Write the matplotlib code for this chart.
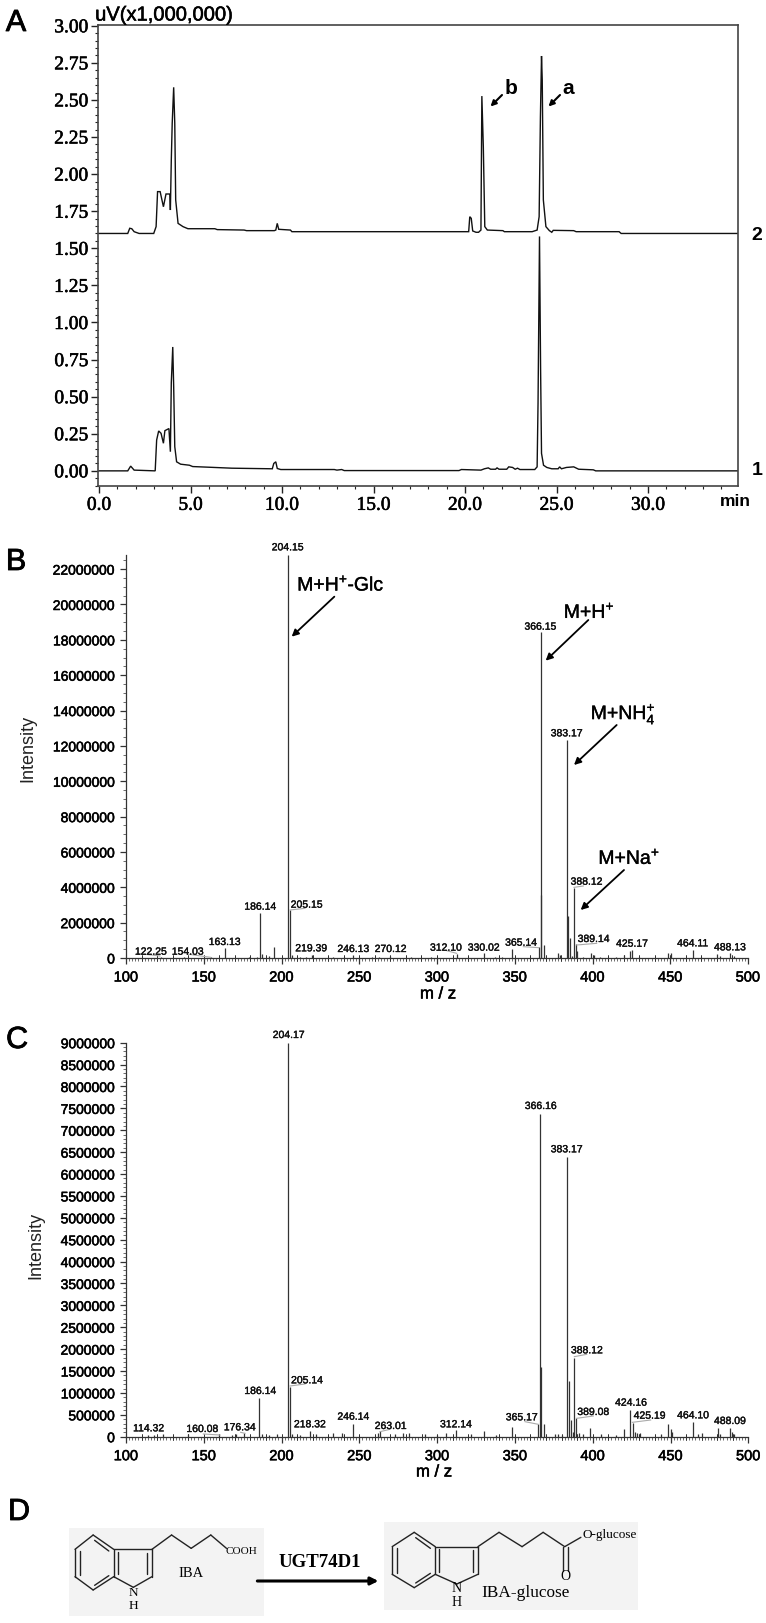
import numpy as np
import matplotlib
matplotlib.use("Agg")
import matplotlib.pyplot as plt
import matplotlib.patheffects as pe
from matplotlib.patches import Rectangle
from matplotlib.ticker import MultipleLocator, FixedLocator

plt.rcParams['font.family'] = ['Liberation Sans', 'DejaVu Sans']
plt.rcParams['mathtext.fontset'] = 'custom'
plt.rcParams['mathtext.rm'] = 'Liberation Sans'
plt.rcParams['mathtext.default'] = 'regular'

# ---------- data: panel A chromatograms ----------
trace2_t = [0.0, 1.57, 1.68, 1.79, 1.92, 2.19, 2.99, 3.12, 3.20, 3.34, 3.52, 3.66, 3.87, 3.90, 3.95, 4.00, 4.08, 4.14,
            4.19, 4.32, 4.59, 4.86, 6.33, 6.46, 7.93, 8.06, 9.58, 9.66, 9.74, 9.82, 10.46, 10.54, 20.20, 20.26, 20.34,
            20.42, 20.60, 20.74, 20.87, 20.92, 21.00, 21.08, 21.22, 22.07, 22.15, 23.67, 23.94, 24.05, 24.12, 24.18,
            24.22, 24.28, 24.42, 24.61, 24.74, 24.82, 25.94, 26.07, 28.42, 28.53, 34.9]
trace2_v = [1.60, 1.60, 1.635, 1.632, 1.612, 1.60, 1.60, 1.646, 1.882, 1.882, 1.78, 1.866, 1.866, 1.758, 2.095, 2.342,
            2.585, 2.342, 1.826, 1.668, 1.646, 1.632, 1.632, 1.626, 1.623, 1.619, 1.619, 1.623, 1.668, 1.628, 1.623,
            1.612, 1.612, 1.713, 1.702, 1.617, 1.608, 1.608, 1.623, 2.526, 2.185, 1.646, 1.623, 1.619, 1.612, 1.612,
            1.623, 1.713, 2.387, 2.796, 2.634, 1.826, 1.646, 1.619, 1.608, 1.621, 1.619, 1.612, 1.612, 1.60, 1.60]
trace1_t = [0.0, 1.57, 1.73, 1.92, 3.07, 3.15, 3.26, 3.39, 3.52, 3.60, 3.82, 3.90, 3.95, 4.03, 4.08, 4.14, 4.24, 4.46,
            4.94, 5.12, 5.92, 7.26, 9.47, 9.55, 9.66, 9.74, 9.93, 12.86, 13.0, 13.26, 13.40, 19.67, 19.80, 20.34,
            20.87, 21.06, 21.27, 21.40, 21.67, 21.75, 21.86, 22.28, 22.39, 22.60, 22.74, 22.87, 23.0, 23.81, 23.94,
            23.99, 24.07, 24.13, 24.18, 24.29, 24.47, 24.74, 25.09, 25.17, 25.27, 25.54, 25.94, 26.21, 27.01, 27.14,
            34.9]
trace1_v = [0.0, 0.0, 0.032, 0.005, 0.0, 0.208, 0.269, 0.253, 0.186, 0.271, 0.285, 0.129, 0.593, 0.835, 0.570, 0.163,
            0.061, 0.045, 0.038, 0.029, 0.025, 0.018, 0.014, 0.05, 0.061, 0.016, 0.009, 0.009, 0.005, 0.009, 0.002,
            0.002, 0.009, 0.007, 0.005, 0.014, 0.02, 0.011, 0.011, 0.02, 0.011, 0.011, 0.027, 0.023, 0.011, 0.018,
            0.009, 0.009, 0.027, 0.457, 1.58, 0.683, 0.118, 0.038, 0.023, 0.014, 0.014, 0.027, 0.014, 0.023, 0.027,
            0.011, 0.007, 0.0, 0.0]
a_xticks = [0.0, 5.0, 10.0, 15.0, 20.0, 25.0, 30.0]
a_yticks = [0.00, 0.25, 0.50, 0.75, 1.00, 1.25, 1.50, 1.75, 2.00, 2.25, 2.50, 2.75, 3.00]

# ---------- data: panel B spectrum ----------
b_mz = [122.5, 137, 154.5, 163.4, 179, 184, 186.2, 187.2, 192, 195.4, 204.0, 205.4, 206.5, 212, 216, 219.5, 233, 240, 246, 258,
        263, 270, 283, 296, 312.6, 330.3, 337, 342, 348.3, 365.3, 366.6, 367.0, 368.6, 377.6, 379, 383.4, 384.3, 385.8,
        387, 388.0, 389.4, 390.2, 394, 398.8, 401, 405, 415, 420.5, 424.0, 425.5, 430, 448.4, 450.2, 464.6, 470, 480, 482, 488.7, 491]
b_int = [60000, 50000, 70000, 570000, 80000, 60000, 2550000, 200000, 90000, 600000, 22800000, 2730000, 150000, 60000, 80000, 170000, 60000, 70000, 190000, 60000,
         60000, 120000, 50000, 60000, 220000, 260000, 80000, 70000, 500000, 600000, 18440000, 3580000, 750000, 300000, 150000, 12350000, 2400000, 1130000,
         110000, 3960000, 800000, 400000, 60000, 300000, 180000, 70000, 60000, 150000, 400000, 450000, 50000, 300000, 270000, 480000, 70000, 200000, 100000, 300000, 90000]
b_labels = ['204.15', '186.14', '205.15', '163.13', '122.25', '154.03', '219.39', '246.13', '270.12', '312.10', '330.02',
            '365.14', '366.15', '383.17', '388.12', '389.14', '425.17', '464.11', '488.13']
b_yticks = [0, 2000000, 4000000, 6000000, 8000000, 10000000, 12000000, 14000000, 16000000, 18000000, 20000000, 22000000]

# ---------- data: panel C spectrum ----------
c_mz = [114, 118, 124, 140, 160, 168, 171, 176, 185.8, 187.5, 192, 197, 204.4, 205.4, 206.5, 212, 218.5, 222, 232.8, 238.8, 245.6, 262, 263.5,
        273, 278, 282, 292, 300, 306, 311.8, 322, 330.4, 338, 348.3, 364.8, 366.3, 366.9, 368.5, 376, 378, 380, 383.2, 384.6, 385.8,
        387, 388.2, 389.0, 391, 394, 398.3, 405, 415, 420.4, 424.2, 425.6, 427, 428.6, 430.5, 444, 448.1, 450, 451, 464.5, 467.5, 470, 480.7, 482, 488, 489.6, 491]
c_int = [50000, 50000, 60000, 60000, 60000, 50000, 60000, 90000, 890000, 60000, 50000, 60000, 9000000, 1140000, 70000, 50000, 130000, 60000, 80000, 80000, 300000, 80000, 120000,
         60000, 80000, 90000, 60000, 50000, 80000, 150000, 60000, 130000, 50000, 230000, 280000, 7380000, 1600000, 300000, 60000, 70000, 50000, 6400000, 1270000, 380000,
         100000, 1800000, 420000, 90000, 70000, 190000, 60000, 50000, 180000, 620000, 320000, 100000, 90000, 80000, 60000, 290000, 180000, 100000, 340000, 70000, 80000, 190000, 70000, 190000, 110000, 70000]
c_labels = ['204.17', '186.14', '205.14', '114.32', '160.08', '176.34', '218.32', '246.14', '263.01', '312.14', '365.17',
            '366.16', '383.17', '388.12', '389.08', '424.16', '425.19', '464.10', '488.09']
c_yticks = [0, 500000, 1000000, 1500000, 2000000, 2500000, 3000000, 3500000, 4000000, 4500000, 5000000, 5500000, 6000000,
            6500000, 7000000, 7500000, 8000000, 8500000, 9000000]
ms_xticks = [100, 150, 200, 250, 300, 350, 400, 450, 500]

# ---------- layout ----------
W, H = 766, 1623
fig = plt.figure(figsize=(W / 100, H / 100), dpi=100, facecolor='white')


def axes_px(left, top, right, bottom):
    return fig.add_axes([left / W, 1 - bottom / H, (right - left) / W, (bottom - top) / H])


SERIF = ['Liberation Serif', 'DejaVu Serif']
DARK = '#222222'


def heavy(w=0.35):
    return [pe.withStroke(linewidth=w, foreground='black')]


# Panel A
axA = axes_px(98, 25, 737.7, 485.7)
axA.plot(trace2_t, trace2_v, color='#111111', lw=1.0, solid_joinstyle='miter')
axA.plot(trace1_t, trace1_v, color='#111111', lw=1.0, solid_joinstyle='miter')
axA.set_xlim(-0.055, 34.9)
axA.set_ylim(-0.1, 3.005)
axA.xaxis.set_major_locator(FixedLocator(a_xticks))
axA.xaxis.set_minor_locator(MultipleLocator(1))
axA.yaxis.set_major_locator(FixedLocator(a_yticks))
axA.yaxis.set_minor_locator(MultipleLocator(0.05))
axA.set_xticklabels([f'{v:.1f}' for v in a_xticks], family=SERIF, fontsize=14)
axA.set_yticklabels([f'{v:.2f}' for v in a_yticks], family=SERIF, fontsize=14)
axA.tick_params(axis='both', which='major', length=5, width=1, color=DARK, labelcolor='black', pad=2)
axA.tick_params(axis='both', which='minor', length=2.5, width=0.8, color=DARK)
axA.tick_params(axis='x', pad=3)
for s in axA.spines.values():
    s.set_color('#444444')
    s.set_linewidth(1.2)
for lab in axA.get_xticklabels() + axA.get_yticklabels():
    lab.set_path_effects(heavy(0.4))


def spectrum(ax, mz, inten, yticks, ymax, yminor):
    ax.vlines(mz, 0, inten, color='#333333', lw=0.9)
    ax.set_xlim(100, 500)
    ax.set_ylim(0, ymax)
    ax.xaxis.set_major_locator(FixedLocator(ms_xticks))
    ax.xaxis.set_minor_locator(MultipleLocator(2))
    ax.yaxis.set_major_locator(FixedLocator(yticks))
    ax.yaxis.set_minor_locator(MultipleLocator(yminor))
    ax.set_xticklabels([str(v) for v in ms_xticks], fontsize=10.5)
    ax.set_yticklabels([str(v) for v in yticks], fontsize=10)
    ax.tick_params(axis='both', which='major', length=4, width=0.9, color='#333333', pad=4)
    ax.tick_params(axis='both', which='minor', length=2, width=0.6, color='#555555')
    ax.tick_params(axis='x', which='major', pad=5)
    for side in ('top', 'right'):
        ax.spines[side].set_visible(False)
    for side in ('left', 'bottom'):
        ax.spines[side].set_color('#333333')
        ax.spines[side].set_linewidth(0.9)
    for lab in ax.get_xticklabels() + ax.get_yticklabels():
        lab.set_path_effects(heavy(0.4))
    # decade ticks straddling the baseline
    for v in np.arange(110, 500, 10):
        ax.plot([v, v], [0, 0], marker='|', ms=5, mew=0.7, color='#333333', clip_on=False, zorder=3)


axB = axes_px(126, 555, 748, 958)
spectrum(axB, b_mz, b_int, b_yticks, 22800000, 500000)
axC = axes_px(126, 1042.7, 748.3, 1436.7)
spectrum(axC, c_mz, c_int, c_yticks, 9000000, 100000)

# Overlay in pixel coordinates for annotations and the scheme
ov = fig.add_axes([0, 0, 1, 1], zorder=10)
ov.set_xlim(0, W)
ov.set_ylim(H, 0)
ov.axis('off')
ov.patch.set_alpha(0)


def T(x, y, s, size, w=0.0, **kw):
    kw.setdefault('ha', 'center')
    kw.setdefault('va', 'center')
    kw.setdefault('color', 'black')
    t = ov.text(x, y, s, fontsize=size, **kw)
    if w:
        t.set_path_effects(heavy(w))
    return t


def arrow(x0, y0, x1, y1, lw=1.3, ms=10):
    ov.annotate('', xy=(x1, y1), xytext=(x0, y0),
                arrowprops=dict(arrowstyle='-|>', color='black', lw=lw, mutation_scale=ms,
                                shrinkA=0, shrinkB=0))


# Panel letters
T(16, 23, 'A', 22, w=0.6)
T(16, 562, 'B', 22, w=0.6)
T(17, 1040, 'C', 22, w=0.6)
T(19, 1512, 'D', 22, w=0.6)

# Panel A text
T(163.5, 15, 'uV(x1,000,000)', 14.5, w=0.4)
T(735, 502, 'min', 12.5, fontweight='bold')
T(757, 236, '2', 14, fontweight='bold')
T(757, 470.7, '1', 14, fontweight='bold')
T(511, 89, 'b', 15, fontweight='bold')
T(568, 89, 'a', 15, fontweight='bold')
arrow(502, 95, 490.5, 106.5, lw=1.5, ms=8)
arrow(560, 95, 548.5, 106.5, lw=1.5, ms=8)

# Panel B text
zb = lambda x, y: (x / 3, 530 + y / 3)
zb2 = lambda x, y: (380 + x / 3, 530 + y / 3)
b_pos = [zb(863, 52), zb(781, 1130), zb(920, 1124), zb(674, 1236), zb(453, 1265), zb(563, 1265), zb(934, 1255),
         zb(1060, 1257), zb(1172, 1257), zb2(198, 1253), zb2(311, 1253), zb2(423, 1238), zb2(481, 290), zb2(560, 610),
         zb2(620, 1055), zb2(641, 1227), zb2(756, 1241), zb2(938, 1240), zb2(1050, 1252)]
for s, (x, y) in zip(b_labels, b_pos):
    T(x, y, s, 7.5, w=0.25, color='#111111')
b_lead = [zb(410, 1270) + zb(480, 1278), zb(560, 1272) + zb(632, 1282), zb(870, 1140) + zb(915, 1135),
          zb2(430, 1250) + zb2(476, 1253), zb2(582, 1072) + zb2(610, 1068), zb2(590, 1245) + zb2(650, 1240),
          zb2(200, 1262) + zb2(230, 1270)]
for x0, y0, x1, y1 in b_lead:
    ov.plot([x0, x1], [y0, y1], color='#aaaaaa', lw=0.8)
T(*zb(1023, 165), 'M+H$^{+}$-Glc', 14, w=0.25)
T(*zb2(628, 247), 'M+H$^{+}$', 14, w=0.25)
T(*zb2(730, 553), 'M+NH$_{4}^{+}$', 14, w=0.25)
T(*zb2(748, 985), 'M+Na$^{+}$', 14, w=0.25)
arrow(*zb(1003, 200), *zb(875, 320))
arrow(*zb2(625, 270), *zb2(497, 392))
arrow(*zb2(710, 585), *zb2(582, 705))
arrow(*zb2(732, 1020), *zb2(602, 1140))
T(28, 748, 'Intensity', 13, rotation=90, color='#222222')
T(438, 994, 'm / z', 12, w=0.4)

# Panel C text
zc = lambda x, y: (x / 3, 1010 + y / 3)
zc2 = lambda x, y: (380 + x / 3, 1010 + y / 3)
c_pos = [zc(866, 75), zc(781, 1143), zc(921, 1111), zc(446, 1255), zc(607, 1257), zc(719, 1252), zc(930, 1243),
         zc(1060, 1220), zc(1172, 1248), zc2(228, 1243), zc2(425, 1222), zc2(482, 288), zc2(560, 418), zc2(621, 1021),
         zc2(640, 1206), zc2(753, 1178), zc2(809, 1217), zc2(939, 1216), zc2(1050, 1233)]
for s, (x, y) in zip(c_labels, c_pos):
    T(x, y, s, 7.5, w=0.25, color='#111111')
c_lead = [zc(870, 1128) + zc(915, 1122), zc(610, 1272) + zc(660, 1275), zc(722, 1267) + zc(735, 1270),
          zc2(0, 1265) + zc2(30, 1258), zc2(435, 1235) + zc2(475, 1243), zc2(583, 1040) + zc2(620, 1033),
          zc2(590, 1225) + zc2(640, 1218), zc2(757, 1237) + zc2(812, 1230)]
for x0, y0, x1, y1 in c_lead:
    ov.plot([x0, x1], [y0, y1], color='#aaaaaa', lw=0.8)
T(36, 1245, 'Intensity', 13, rotation=90, color='#222222')
T(434, 1472, 'm / z', 12, w=0.4)

# Panel D scheme
zd = lambda x, y: (x / 2.04, 1480 + y / 3)
ov.add_patch(Rectangle((68.6, 1528), 195.4, 88, facecolor='#f3f3f3', edgecolor='none'))
ov.add_patch(Rectangle((384, 1522), 254, 88, facecolor='#f3f3f3', edgecolor='none'))


def bonds(segments, lw=1.0):
    for a, b in segments:
        (x0, y0), (x1, y1) = zd(*a), zd(*b)
        ov.plot([x0, x1], [y0, y1], color='#222222', lw=lw, solid_capstyle='round')


def indole(top, ur, lr, bot, ll, ul, c3, c2, n):
    bonds([(top, ur), (ur, lr), (lr, bot), (bot, ll), (ll, ul), (ul, top), (ur, c3), (c3, c2), (c2, n), (n, lr)])
    bonds([((top[0] + 3, top[1] + 16), (ur[0] - 10, ur[1] + 5)),
           ((ll[0] + 10, ll[1] - 5), (ul[0] + 10, ul[1] + 5)),
           ((bot[0] + 3, bot[1] - 14), (lr[0] - 10, lr[1] - 3)),
           ((ur[0] + 8, ur[1] + 8), (lr[0] + 8, lr[1] - 8)),
           ((c3[0] - 10, c3[1] + 10), (c2[0] - 10, c2[1] - 8))])


indole((190, 165), (232, 208), (232, 290), (190, 330), (153, 290), (153, 208), (310, 208), (310, 290), (272, 322))
bonds([((310, 208), (350, 165)), ((350, 165), (390, 205)), ((390, 205), (430, 165)), ((430, 165), (462, 205))])
T(*zd(493, 216), 'COOH', 8, family=SERIF)
T(*zd(390, 280), 'IBA', 10.5, family=SERIF)
T(*zd(272, 338), 'N', 9.5, family=SERIF)
T(*zd(272, 378), 'H', 9.5, family=SERIF)

indole((845, 157), (888, 200), (888, 283), (845, 323), (800, 283), (800, 200), (975, 200), (975, 283), (932, 312))
bonds([((975, 200), (1018, 157)), ((1018, 157), (1065, 200)), ((1065, 200), (1108, 157)), ((1108, 157), (1152, 200)),
       ((1152, 200), (1185, 172)), ((1148, 200), (1148, 272)), ((1158, 200), (1158, 272))])
T(*zd(1243, 165), 'O-glucose', 9.5, family=SERIF)
T(*zd(1153, 288), 'O', 10, family=SERIF)
T(*zd(932, 325), 'N', 10, family=SERIF)
T(*zd(932, 367), 'H', 10, family=SERIF)
T(*zd(1072, 338), 'IBA-glucose', 12.4, family=SERIF)
T(*zd(653, 248), 'UGT74D1', 13.5, family=SERIF, fontweight='bold')
arrow(*zd(525, 303), *zd(772, 303), lw=2.2, ms=11)

fig.savefig('out.png', dpi=100, facecolor='white')
